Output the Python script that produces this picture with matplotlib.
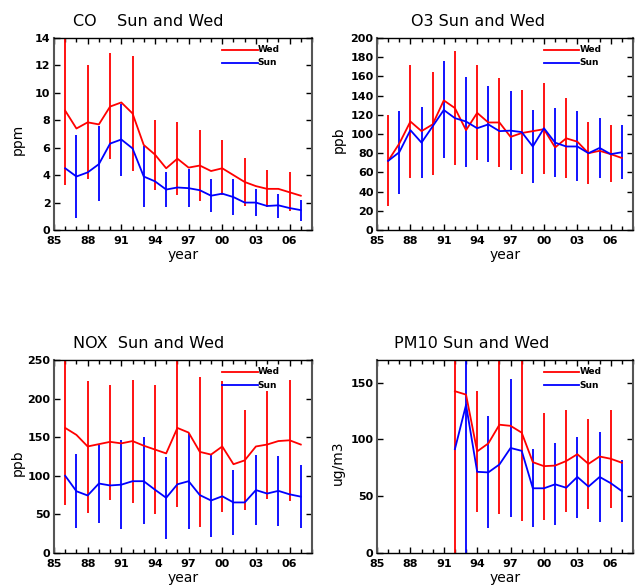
import matplotlib
matplotlib.use("Agg")
import matplotlib.pyplot as plt
from matplotlib.ticker import MultipleLocator, FixedLocator

# ---------------- data ----------------
years = list(range(1986, 2008))
pm_years = list(range(1992, 2008))
wed_err_years = list(range(1986, 2008, 2))
sun_err_years = list(range(1987, 2008, 2))
pm_wed_err_years = list(range(1992, 2008, 2))
pm_sun_err_years = list(range(1993, 2008, 2))

co_wed = [8.7, 7.4, 7.85, 7.7, 9.0, 9.3, 8.5, 6.2, 5.5, 4.5, 5.2, 4.55, 4.7, 4.3, 4.5, 4.0, 3.5, 3.2, 3.0, 3.0, 2.75, 2.5]
co_sun = [4.5, 3.9, 4.2, 4.8, 6.3, 6.6, 5.95, 3.9, 3.55, 2.95, 3.1, 3.05, 2.9, 2.5, 2.65, 2.4, 2.0, 2.0, 1.75, 1.8, 1.6, 1.45]
co_wed_lo = [3.25, 3.7, 5.2, 4.3, 2.9, 2.55, 2.15, 2.55, 1.77, 1.65, 1.38]
co_wed_hi = [14.5, 12.0, 12.9, 12.7, 8.05, 7.9, 7.3, 6.55, 5.25, 4.4, 4.2]
co_sun_lo = [0.85, 2.1, 3.95, 1.7, 1.65, 1.65, 1.3, 1.1, 1.0, 0.9, 0.65]
co_sun_hi = [6.9, 7.55, 9.2, 6.1, 4.2, 4.45, 3.75, 3.75, 3.0, 2.65, 2.2]

o3_wed = [72, 90, 113, 103, 110, 135, 127, 104, 122, 112, 112, 97, 101, 103, 105, 86, 95.5, 92, 80, 82.5, 79, 75]
o3_sun = [72, 81, 104, 91, 108, 125, 116.5, 113, 106, 110, 103, 103.5, 102, 87, 106, 91, 87, 87, 80, 85.5, 79, 81]
o3_wed_lo = [25, 54.5, 57, 67.5, 72.5, 66, 58, 58.5, 54.5, 48, 50]
o3_wed_hi = [120, 172, 165, 186, 171.5, 158, 145.5, 153, 137, 112.5, 109]
o3_sun_lo = [38, 54.5, 74.5, 66, 70.5, 62, 49, 55.5, 51, 54, 53.5]
o3_sun_hi = [123.5, 128, 176.5, 159, 150, 145, 125, 127.5, 123.5, 117, 109.5]

nox_wed = [162, 153, 138, 141, 144, 142, 145, 139, 134, 129, 162, 156, 131, 127.5, 138, 115, 120, 138, 140.5, 145, 146, 140.5]
nox_sun = [100, 80, 74.5, 90, 87.5, 88.5, 93, 93, 82, 71.5, 89, 93, 75, 68, 73.5, 65.5, 65.5, 81.5, 77, 80.5, 76, 73]
nox_wed_lo = [62, 52, 69, 65, 50, 59.5, 33.5, 53, 56, 69.5, 68]
nox_wed_hi = [265, 223, 218, 224, 218, 262, 228, 223, 185, 210, 224]
nox_sun_lo = [32, 39.5, 31.5, 37, 18, 31, 21, 23.5, 36, 35.5, 32]
nox_sun_hi = [128, 140, 146, 150, 124, 155.5, 128, 108, 127.5, 126, 114]

pm_wed = [142.5, 139.5, 89.5, 96.5, 113, 112, 106, 80, 76.5, 77, 81, 87, 78.5, 85, 83, 79.5]
pm_sun = [91.5, 130.5, 71.5, 71, 78, 92.5, 90, 57, 57, 60.5, 57.5, 67, 58.5, 67, 61.5, 54.5]
pm_wed_lo = [-5, 36, 34.5, 28, 29, 36, 38.5, 39.5]
pm_wed_hi = [190, 143, 180, 180, 123, 126, 118, 126]
pm_sun_lo = [-20, 22, 32, 22.5, 24.5, 31, 27, 27.5]
pm_sun_hi = [185, 120.5, 153, 91.5, 96.5, 102.5, 107, 81.5]

xtick_vals = [1985, 1988, 1991, 1994, 1997, 2000, 2003, 2006]
xtick_labels = ['85', '88', '91', '94', '97', '00', '03', '06']

RED = '#ff0000'
BLUE = '#0000ff'

W, H = 636, 585
fig = plt.figure(figsize=(W / 100, H / 100), dpi=100)


def make_axes(left, right, top, bottom):
    return fig.add_axes([left / W, 1 - bottom / H, (right - left) / W, (bottom - top) / H])


panels = [
    dict(box=(54, 312, 38, 230), title='CO    Sun and Wed', tx=73, ty=21, ylabel='ppm', ylx=-0.112,
         ylim=(0, 14), ystep=2,
         wy=years, wv=co_wed, sy=years, sv=co_sun,
         wey=wed_err_years, wlo=co_wed_lo, whi=co_wed_hi,
         sey=sun_err_years, slo=co_sun_lo, shi=co_sun_hi),
    dict(box=(377, 633, 38, 230), title='O3 Sun and Wed', tx=411, ty=21, ylabel='ppb', ylx=-0.121,
         ylim=(0, 200), ystep=20,
         wy=years, wv=o3_wed, sy=years, sv=o3_sun,
         wey=wed_err_years, wlo=o3_wed_lo, whi=o3_wed_hi,
         sey=sun_err_years, slo=o3_sun_lo, shi=o3_sun_hi),
    dict(box=(54, 312, 360, 553), title='NOX  Sun and Wed', tx=73, ty=343, ylabel='ppb', ylx=-0.112,
         ylim=(0, 250), ystep=50,
         wy=years, wv=nox_wed, sy=years, sv=nox_sun,
         wey=wed_err_years, wlo=nox_wed_lo, whi=nox_wed_hi,
         sey=sun_err_years, slo=nox_sun_lo, shi=nox_sun_hi),
    dict(box=(377, 633, 360, 553), title='PM10 Sun and Wed', tx=394, ty=343, ylabel='ug/m3', ylx=-0.125,
         ylim=(0, 170), ystep=50,
         wy=pm_years, wv=pm_wed, sy=pm_years, sv=pm_sun,
         wey=pm_wed_err_years, wlo=pm_wed_lo, whi=pm_wed_hi,
         sey=pm_sun_err_years, slo=pm_sun_lo, shi=pm_sun_hi),
]

for p in panels:
    ax = make_axes(*p['box'])
    ax.vlines(p['wey'], p['wlo'], p['whi'], colors=RED, lw=1.3)
    ax.vlines(p['sey'], p['slo'], p['shi'], colors=BLUE, lw=1.3)
    ax.plot(p['wy'], p['wv'], color=RED, lw=1.3)
    ax.plot(p['sy'], p['sv'], color=BLUE, lw=1.3)

    ax.set_xlim(1985, 2008)
    ax.set_ylim(*p['ylim'])
    ax.xaxis.set_major_locator(FixedLocator(xtick_vals))
    ax.set_xticklabels(xtick_labels)
    ax.xaxis.set_minor_locator(MultipleLocator(1))
    ax.yaxis.set_major_locator(MultipleLocator(p['ystep']))
    ax.tick_params(which='both', direction='in', top=True, right=True, color='black')
    ax.tick_params(which='major', length=4, width=1)
    ax.tick_params(which='minor', length=3, width=1)
    ax.tick_params(axis='y', which='minor', left=False, right=False)
    ax.tick_params(axis='x', pad=4)
    ax.tick_params(axis='y', pad=2.5)
    for lab in ax.get_xticklabels() + ax.get_yticklabels():
        lab.set_fontsize(8)
        lab.set_fontweight('bold')
    for s in ('top', 'bottom'):
        ax.spines[s].set_color('black')
        ax.spines[s].set_linewidth(1.0)
    for s in ('left', 'right'):
        ax.spines[s].set_color('#555555')
        ax.spines[s].set_linewidth(1.5)

    ax.set_xlabel('year', fontsize=10, labelpad=2)
    ax.set_ylabel(p['ylabel'], fontsize=10)
    ax.yaxis.set_label_coords(p['ylx'], 0.47)

    # legend
    ax.plot([0.652, 0.79], [0.94, 0.94], color=RED, lw=1.3, transform=ax.transAxes, clip_on=False)
    ax.plot([0.652, 0.79], [0.87, 0.87], color=BLUE, lw=1.3, transform=ax.transAxes, clip_on=False)
    ax.text(0.79, 0.94, 'Wed', transform=ax.transAxes, fontsize=6.5, fontweight='bold', va='center', ha='left')
    ax.text(0.79, 0.87, 'Sun', transform=ax.transAxes, fontsize=6.5, fontweight='bold', va='center', ha='left')

    fig.text(p['tx'] / W, 1 - p['ty'] / H, p['title'], fontsize=11.5, ha='left', va='center')

fig.savefig('out.png', dpi=100, facecolor='white')
